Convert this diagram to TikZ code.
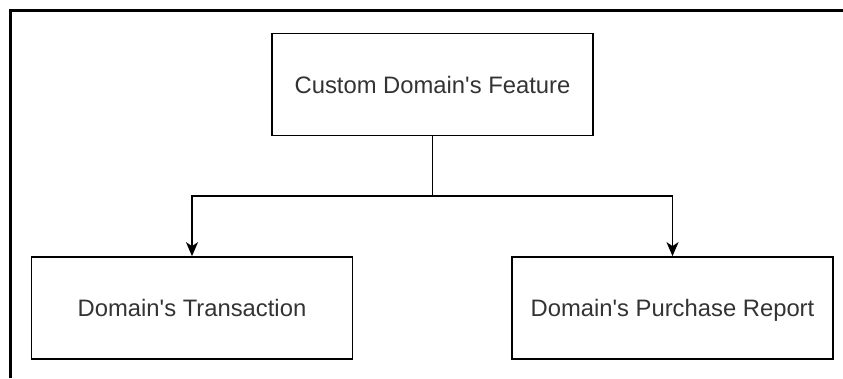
\documentclass[tikz,border=0pt]{standalone}
\usepackage{tikz,color}
\usepackage{fontspec}
\setmainfont{Liberation Sans}
\usetikzlibrary{arrows.meta}

\begin{document}
\begin{tikzpicture}[x=1pt, y=-1pt,
  box/.style={draw, line width=1.7pt, minimum width=321pt, minimum height=102pt,
    inner sep=0pt, text height=20pt, text depth=3pt, text=black!80,
    font=\fontsize{23.8}{28}\selectfont},
  link/.style={line width=1.7pt},
  arrow/.style={link, -{Stealth[length=14pt, width=12pt, inset=4pt]}}]

\useasboundingbox (0,0) rectangle (843,378);

% outer frame, cut by the page edge
\draw [line width=2.6pt] (10.5,378) -- (10.5,10.5) -- (843,10.5);

\node [box] (feature) at (432.5,84.5) {Custom Domain\textquotesingle s Feature};
\node [box] (transaction) at (192,308) {Domain\textquotesingle s Transaction};
\node [box] (report) at (672.5,308) {Domain\textquotesingle s Purchase Report};

\coordinate (split) at (432.5,196);

\draw [link] (feature) -- (split);
\draw [arrow] (split) -| (transaction);
\draw [arrow] (split) -| (report);

\end{tikzpicture}
\end{document}
